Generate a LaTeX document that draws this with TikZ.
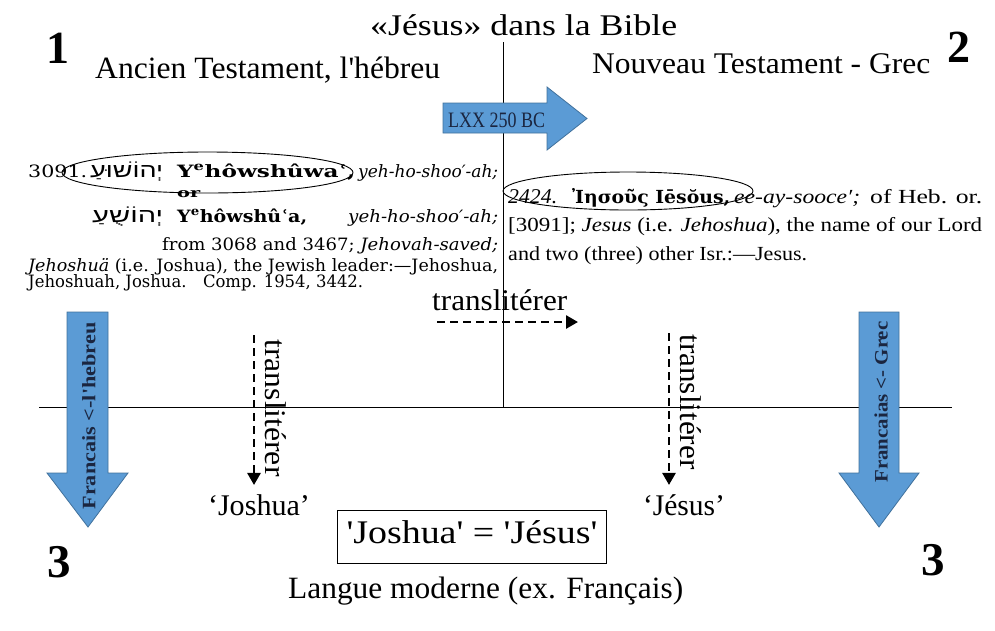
\documentclass[tikz,border=0pt]{standalone}
\usepackage{fontspec}
\usepackage{graphicx}
\setmainfont{Liberation Serif}
\newfontfamily\dfont{DejaVu Serif}
\newfontfamily\grkfont{DejaVu Serif}
\newfontfamily\hebfont[Script=Hebrew]{Liberation Sans}
\usetikzlibrary{arrows.meta}
\TeXXeTstate=1
\definecolor{arrowblue}{HTML}{5B9BD5}
\definecolor{arrowedge}{HTML}{41719C}
\definecolor{navytext}{HTML}{1B2640}
\newcommand\fitw[2]{\resizebox{#1}{\height}{#2}}
\newcommand\fs[1]{\fontsize{#1}{#1}\selectfont}
\newcommand\sq{\textquotesingle}
\begin{document}
\begin{tikzpicture}[x=1pt,y=-1pt,
  txt/.style={inner sep=0pt,anchor=base west},
  ctxt/.style={inner sep=0pt,anchor=base},
  bluearrow/.style={fill=arrowblue,draw=arrowedge,line width=0.8pt},
  thinline/.style={line width=1pt},
  dasharrow/.style={line width=2.6pt,dash pattern=on 8pt off 5pt,-{Triangle[length=12pt,width=13pt]}},
  ring/.style={draw,line width=0.9pt}]
\useasboundingbox (0,0) rectangle (995,630);
% axes
\coordinate (vtop) at (503,42);
\coordinate (vbot) at (503,407);
\coordinate (hl) at (39,407);
\coordinate (hr) at (952,407);
\draw[thinline] (vtop) -- (vbot);
\draw[thinline] (hl) -- (hr);
% header texts
\node[txt] (title) at (370,35) {\fitw{307pt}{\fs{30}«Jésus» dans la Bible}};
\node[ctxt] (n1) at (57.5,63) {\fs{46}\bfseries 1};
\node[ctxt] (n2) at (959,62) {\fs{46}\bfseries 2};
\node[txt] (at) at (95,78) {\fitw{345pt}{\fs{31}Ancien Testament, l\sq hébreu}};
\node[txt] (nt) at (592,73) {\fitw{338pt}{\fs{30}Nouveau Testament - Grec}};
% LXX arrow
\draw[bluearrow] (443,103) -- (547,103) -- (547,87) -- (587,118.5) -- (547,150) -- (547,133) -- (443,133) -- cycle;
\node[txt,text=navytext] (lxx) at (448,127) {\fitw{97pt}{\fs{22}LXX 250 BC}};
% left dictionary excerpt
\node[txt] (d1a) at (28,177) {\fitw{59pt}{\dfont\fs{17}3091.}};
\node[txt] (d1b) at (90,177) {\mbox{\fitw{73pt}{\hebfont\fs{20}\beginR יְהוֹשׁוּעַ\endR}}};
\node[txt] (d1c) at (177,177) {\fitw{178pt}{\dfont\fs{17}\bfseries Y\textsuperscript{e}hôwshûwaʿ,}};
\node[txt] (d1d) at (358,177) {\fitw{140pt}{\dfont\fs{17}\itshape yeh-ho-shoo′-ah;}};
\node[txt] (d2) at (177,197) {\fitw{23pt}{\dfont\fs{13}\bfseries or}};
\node[txt] (d3a) at (92,222) {\mbox{\fitw{71pt}{\hebfont\fs{20}\beginR יְהוֹשֻׁעַ\endR}}};
\node[txt] (d3b) at (177,222) {\fitw{130pt}{\dfont\fs{17}\bfseries Y\textsuperscript{e}hôwshûʿa,}};
\node[txt] (d3c) at (348,222) {\fitw{150pt}{\dfont\fs{17}\itshape yeh-ho-shoo′-ah;}};
\node[txt] (d4) at (162,250) {\fitw{336pt}{\dfont\fs{17}from 3068 and 3467; \textit{Jehovah-saved;}}};
\node[txt] (d5) at (28,271) {\fitw{470pt}{\dfont\fs{17}\textit{Jehoshuä} (i.e. Joshua), the Jewish leader:—Jehoshua,}};
\node[txt] (d6) at (28,287) {\fitw{335pt}{\dfont\fs{17}Jehoshuah, Joshua.\quad Comp. 1954, 3442.}};
\draw[ring] (207.5,172.5) ellipse [x radius=145.5pt, y radius=20.5pt];
% right dictionary excerpt
\node[txt] (r1a) at (508,203) {\fitw{49pt}{\fs{21}\itshape 2424.}};
\node[txt] (r1b) at (572,203) {\fitw{158pt}{\grkfont\fs{18}\bfseries Ἰησοῦς Iēsŏus,}};
\node[txt] (r1c) at (734,203) {\fitw{126pt}{\fs{20}\itshape ee-ay-sooce′;}};
\node[txt] (r1d) at (870,203) {\fitw{112pt}{\fs{20}of Heb. or.}};
\node[txt] (r2) at (508,231) {\fitw{474pt}{\fs{20}[3091]; \textit{Jesus} (i.e. \textit{Jehoshua}), the name of our Lord}};
\node[txt] (r3) at (508,260) {\fitw{299pt}{\fs{20}and two (three) other Isr.:—Jesus.}};
\draw[ring] (628,191) ellipse [x radius=125pt, y radius=19pt];
% transliteration
\node[txt] (trh) at (432,310) {\fitw{135pt}{\fs{30}translitérer}};
\coordinate (hd1) at (437,322);
\coordinate (hd2) at (578,322);
\draw[dasharrow] (hd1) -- (hd2);
\node[ctxt] (josh) at (259,515) {\fitw{102pt}{\fs{30}‘Joshua’}};
\node[ctxt] (jes) at (684,515) {\fitw{82pt}{\fs{30}‘Jésus’}};
\coordinate (lv1) at (254,335);
\coordinate (rv1) at (669,333);
\draw[dasharrow,shorten >=9pt] (lv1) -- (lv1 |- josh.north);
\draw[dasharrow,shorten >=9pt] (rv1) -- (rv1 |- jes.north);
\node[rotate=-90,inner sep=0pt] (trl) at (276,408) {\fitw{137pt}{\fs{30}translitérer}};
\node[rotate=-90,inner sep=0pt] (trr) at (691,402) {\fitw{135pt}{\fs{30}translitérer}};
% blue down arrows
\draw[bluearrow] (67,312) -- (108,312) -- (108,473) -- (128,473) -- (88,527) -- (47,473) -- (67,473) -- cycle;
\draw[bluearrow] (859,312) -- (899,312) -- (899,473) -- (919,473) -- (879,527) -- (839,473) -- (859,473) -- cycle;
\node[rotate=90,inner sep=0pt,text=navytext] (ltxt) at (89,416) {\fitw{187pt}{\fs{19}\bfseries Francais <-l\sq hebreu}};
\node[rotate=90,inner sep=0pt,text=navytext] (rtxt) at (881,402) {\fitw{161pt}{\fs{19}\bfseries Francaias <- Grec}};
% bottom
\node[draw,line width=1pt,anchor=north west,minimum width=269pt,text height=23pt,text depth=10pt,inner ysep=10pt,inner xsep=0pt] (eq) at (337,510) {\fitw{251pt}{\fs{33}\sq Joshua\sq{} = \sq Jésus\sq}};
\node[txt] (lm) at (288,598) {\fitw{395pt}{\fs{31}Langue moderne (ex. Français)}};
\node[ctxt] (n3l) at (59,577) {\fs{47}\bfseries 3};
\node[ctxt] (n3r) at (933,575) {\fs{47}\bfseries 3};
\end{tikzpicture}
\end{document}
